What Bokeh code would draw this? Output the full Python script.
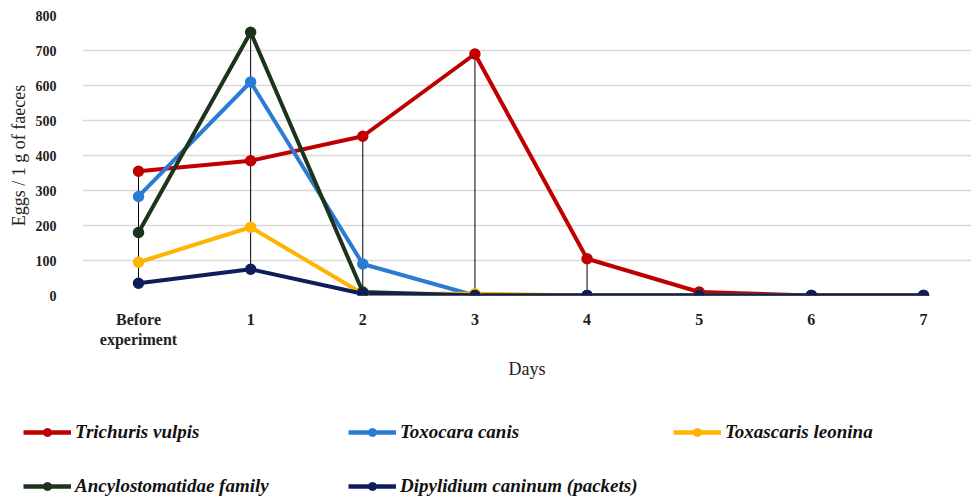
from bokeh.plotting import figure
from bokeh.models import Range1d, FixedTicker, Legend, LegendItem, ColumnDataSource
from bokeh.layouts import column
from bokeh.embed import file_html
from bokeh.resources import INLINE
import numpy as np

categories = ["Before\nexperiment", "1", "2", "3", "4", "5", "6", "7"]
trichuris_vulpis = [355, 385, 455, 690, 105, 10, 0, 0]
toxocara_canis = [283, 610, 90, 0, 0, 0, 0, 0]
toxascaris_leonina = [95, 195, 5, 5, 0, 0, 0, 0]
ancylostomatidae = [180, 752, 10, 0, 0, 0, 0, 0]
dipylidium_caninum = [35, 75, 5, 0, 0, 0, 0, 0]
series_names = ["Trichuris vulpis", "Toxocara canis", "Toxascaris leonina",
                "Ancylostomatidae family", "Dipylidium caninum (packets)"]
series_values = [trichuris_vulpis, toxocara_canis, toxascaris_leonina,
                 ancylostomatidae, dipylidium_caninum]
colors = ["#C00000", "#2B7BD6", "#FFB400", "#1C331C", "#0E1E5B"]
y_ticks = [0, 100, 200, 300, 400, 500, 600, 700, 800]

x = list(range(len(categories)))
SERIF = "Liberation Serif"

p = figure(width=971, height=410, output_backend="svg", toolbar_location=None,
           x_range=Range1d(-0.4994, 7.428), y_range=Range1d(0, 800),
           min_border_left=82, min_border_top=15, min_border_right=0,
           min_border_bottom=115)
p.outline_line_color = None
p.frame_align = False

p.ygrid.ticker = FixedTicker(ticks=y_ticks)
p.ygrid.grid_line_color = "#D9D9D9"
p.ygrid.grid_line_width = 1.5
p.xgrid.grid_line_color = None

p.yaxis.ticker = FixedTicker(ticks=y_ticks)
p.xaxis.ticker = FixedTicker(ticks=x)
p.xaxis.major_label_overrides = {i: c for i, c in enumerate(categories)}
for ax in (p.xaxis, p.yaxis):
    ax.axis_line_color = None
    ax.major_tick_line_color = None
    ax.minor_tick_line_color = None
    ax.major_label_text_font = SERIF
    ax.major_label_text_font_style = "bold"
    ax.major_label_text_color = "#222222"
    ax.axis_label_text_font = SERIF
    ax.axis_label_text_font_size = "18px"
    ax.axis_label_text_font_style = "normal"
    ax.axis_label_text_color = "#222222"
p.yaxis.major_label_text_font_size = "14px"
p.xaxis.major_label_text_font_size = "16px"
p.yaxis.axis_label = "Eggs / 1 g of faeces"
p.yaxis.major_label_standoff = 20
p.yaxis.axis_label_standoff = 4
p.xaxis.axis_label = "Days"
p.xaxis.major_label_standoff = 9
p.xaxis.axis_label_standoff = 8

arr = np.array(series_values)
lows = arr.min(axis=0)
highs = arr.max(axis=0)

sources = []
for vals, col in zip(series_values, colors):
    src = ColumnDataSource(dict(x=x, y=vals))
    p.line("x", "y", source=src, line_color=col, line_width=4)
    sources.append(src)

p.segment(x0=x, y0=lows, x1=x, y1=highs, line_color="black", line_width=1)

for src, col in zip(sources, colors):
    p.scatter("x", "y", source=src, size=10, fill_color=col, line_color=col,
              line_width=1.5)

# legend panel below the chart
lg = figure(width=971, height=87, output_backend="svg", toolbar_location=None,
            x_range=Range1d(-0.4994, 7.428), y_range=Range1d(0, 800),
            min_border_left=0, min_border_top=0, min_border_right=0,
            min_border_bottom=0)
lg.outline_line_color = None
lg.frame_align = False
lg.axis.visible = False
lg.grid.visible = False
items = []
for src, col, name in zip(sources, colors, series_names):
    l = lg.line("x", "y", source=src, line_color=col, line_width=4.5, visible=False)
    s = lg.scatter("x", "y", source=src, size=9, fill_color=col, line_color=col,
                   visible=False)
    items.append(LegendItem(label=name, renderers=[l, s]))

legend = Legend(items=items, location=(23, 0), orientation="horizontal",
                ncols=3, glyph_width=48, glyph_height=20, label_standoff=4,
                label_width=241, label_height=20, spacing=32, padding=0,
                margin=0, border_line_color=None, background_fill_alpha=0,
                label_text_font=SERIF, label_text_font_size="19px",
                label_text_font_style="bold italic", label_text_color="#111111")
lg.add_layout(legend, "center")

layout = column(p, lg, spacing=0)
open("out.html", "w").write(file_html(layout, INLINE))
